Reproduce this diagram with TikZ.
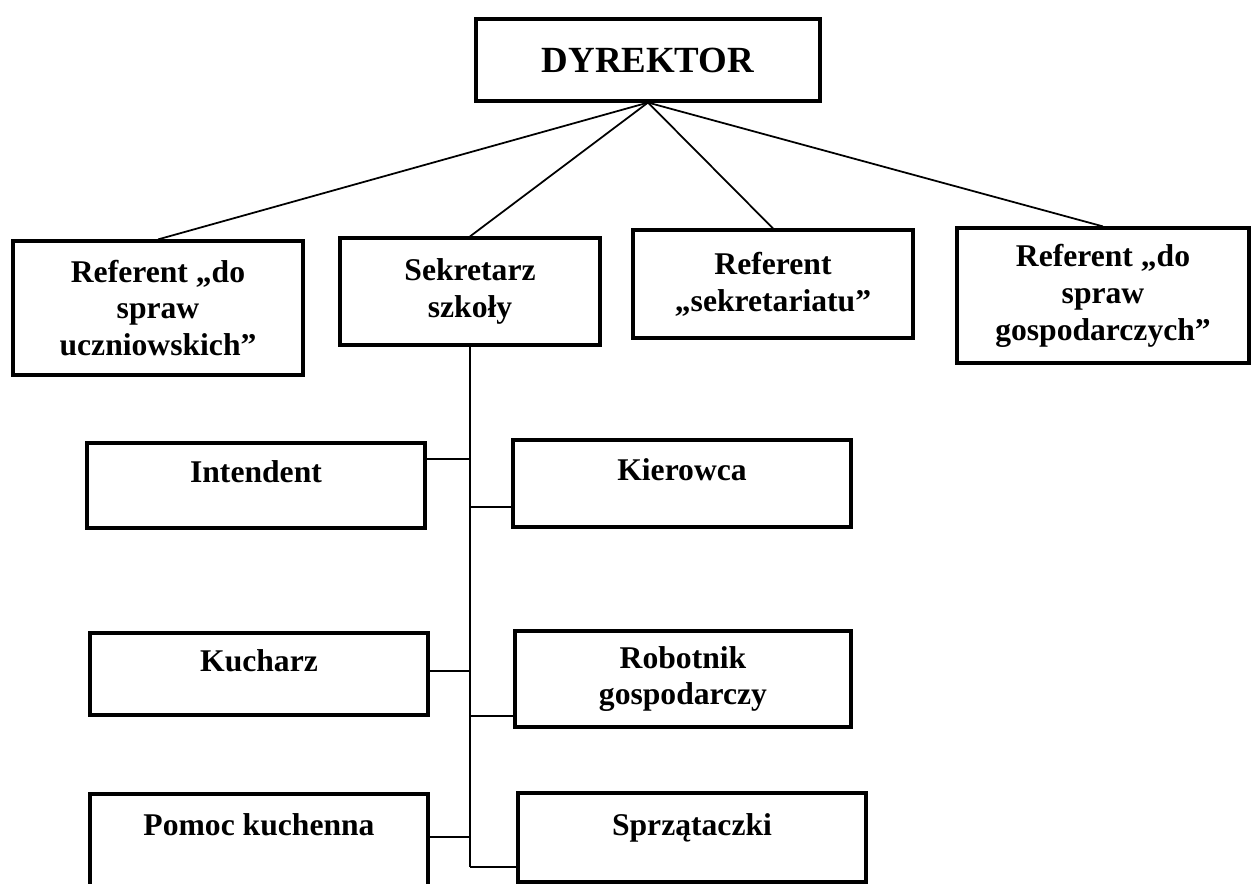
\documentclass[tikz,border=0pt]{standalone}
\usepackage{fontspec}
\setmainfont{Liberation Serif}
\usepackage{tikz}
\usetikzlibrary{positioning}

\begin{document}
\begin{tikzpicture}[
	x=0.02cm, y=-0.02cm,
	box/.style={draw, line width=1.8pt, align=center, inner sep=2pt, font=\bfseries\fontsize{18}{21}\selectfont},
	low/.style={box, minimum width=6.76cm, text height=0.42cm, text depth=0.52cm},
	link/.style={line width=1pt}
]
\useasboundingbox (0,0) rectangle (1254,884);

\node[box, minimum width=6.88cm, minimum height=1.64cm, font=\bfseries\fontsize{21}{25}\selectfont] (dyr) at (648,60) {DYREKTOR};

\node[box, minimum width=5.8cm, minimum height=2.68cm] (refucz) at (158,308) {Referent „do\\spraw\\uczniowskich”};
\node[box, minimum width=5.2cm, minimum height=2.14cm] (sekr) at (470,291.5) {Sekretarz\\szkoły};
\node[box, minimum width=5.6cm, minimum height=2.16cm] (refsek) at (773,284) {Referent\\„sekretariatu”};
\node[box, minimum width=5.84cm, minimum height=2.7cm] (refgosp) at (1103,295.5) {Referent „do\\spraw\\gospodarczych”};

\node[low, minimum height=1.7cm] (intend) at (256,485.5) {Intendent};
\node[low, minimum height=1.74cm] (kier) at (682,483.5) {Kierowca};
\node[low, minimum height=1.64cm] (kuch) at (259,674) {Kucharz};
\node[box, minimum width=6.72cm, minimum height=1.92cm] (robot) at (683,679) {Robotnik\\gospodarczy};
\node[low, minimum height=2.12cm, text depth=0.88cm] (pomoc) at (259,847) {Pomoc kuchenna};
\node[low, minimum width=6.96cm, minimum height=1.78cm] (sprz) at (692,837.5) {Sprzątaczki};

% fan from the director
\draw[link] (dyr.south) -- (refucz.north);
\draw[link] (dyr.south) -- (sekr.north);
\draw[link] (dyr.south) -- (refsek.north);
\draw[link] (dyr.south) -- (refgosp.north);

% trunk under the secretary
\coordinate (t1) at (470,459);
\coordinate (t2) at (470,507);
\coordinate (t3) at (470,671);
\coordinate (t4) at (470,716);
\coordinate (t5) at (470,837);
\coordinate (t6) at (470,867);

\draw[link] (sekr.south) -- (t6);
\draw[link] (intend.east |- t1) -- (t1);
\draw[link] (t2) -- (kier.west |- t2);
\draw[link] (kuch.east |- t3) -- (t3);
\draw[link] (t4) -- (robot.west |- t4);
\draw[link] (pomoc.east |- t5) -- (t5);
\draw[link] (t6) -- (sprz.west |- t6);

\end{tikzpicture}
\end{document}
